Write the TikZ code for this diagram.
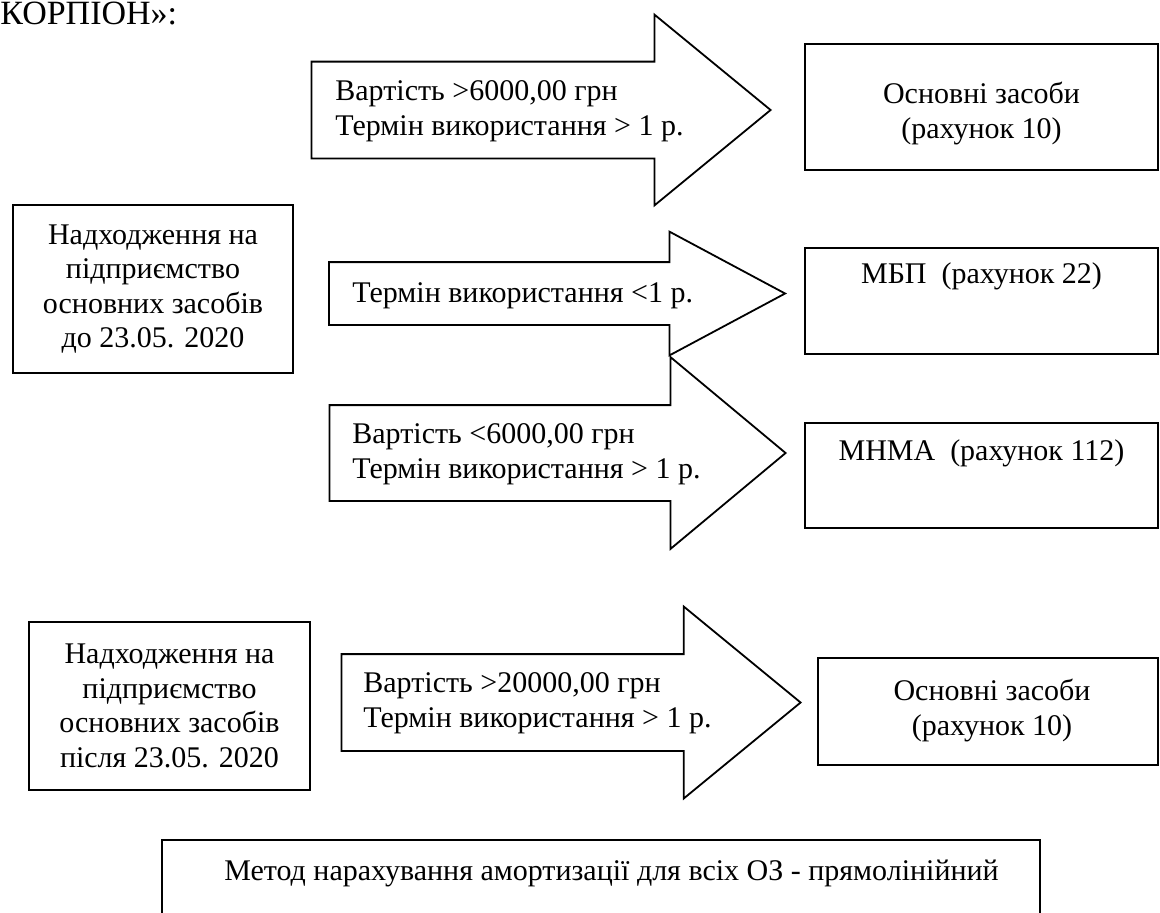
\documentclass[tikz,border=0pt]{standalone}
\usepackage{fontspec}
\setmainfont{Liberation Serif}
\usetikzlibrary{shapes.arrows}

\begin{document}
\begin{tikzpicture}[
  x=0.5pt, y=-0.5pt,
  font=\fontsize{15}{17.25}\selectfont,
  every node/.style={align=center},
  box/.style={draw, line width=0.9pt, inner sep=0pt},
  blockarr/.style={draw, line width=0.9pt, single arrow, anchor=tip,
                   inner xsep=0pt, single arrow head indent=0pt},
  lbl/.style={inner sep=0pt}
]
\clip (0,0) rectangle (1160,912);

%% ── Title fragment ────────────────────────────────────────────────────────
\node[lbl, anchor=base west, font=\fontsize{17}{20}\selectfont] (title)
      at (0,24) {КОРПІОН»:};

%% ── Row 1 : before 23.05.2020 ─────────────────────────────────────────────
\node[box, minimum width=140pt, minimum height=84pt] (inBefore) at (153,289)
      {Надходження на\\підприємство\\основних засобів\\до 23.05. 2020};

\node[blockarr, minimum height=229.5pt, minimum width=94.5pt, inner ysep=23.75pt,
      single arrow head extend=23.5pt, single arrow tip angle=78.8] (arrHigh) at (772,110) {};
\node[blockarr, minimum height=228pt, minimum width=61pt, inner ysep=15.25pt,
      single arrow head extend=15.25pt, single arrow tip angle=56.3] (arrShort) at (787,293.5) {};
\node[blockarr, minimum height=228pt, minimum width=95pt, inner ysep=23.5pt,
      single arrow head extend=24pt, single arrow tip angle=79.6] (arrLow) at (787,453) {};

\node[lbl, align=left, anchor=base west] at (335,135)
      {Вартість >6000,00 грн\\Термін використання > 1 р.};
\node[lbl, align=left, anchor=base west] at (352,302)
      {Термін використання <1 р.};
\node[lbl, align=left, anchor=base west] at (352,478)
      {Вартість <6000,00 грн\\Термін використання > 1 р.};

\node[box, minimum width=176.5pt, minimum height=63pt] (osBefore) at (981.5,107) {};
\node[lbl, anchor=base] at (981.5,138) {Основні засоби\\(рахунок 10)};
\node[box, minimum width=176.5pt, minimum height=53pt] (mbp) at (981.5,301) {};
\node[lbl, anchor=base] at (981.5,283) {МБП\ \ (рахунок 22)};
\node[box, minimum width=176.5pt, minimum height=52.5pt] (mnma) at (981.5,475.5) {};
\node[lbl, anchor=base] at (981.5,460) {МНМА\ \ (рахунок 112)};

%% ── Row 2 : after 23.05.2020 ──────────────────────────────────────────────
\node[box, minimum width=140.5pt, minimum height=84pt] (inAfter) at (169.5,706)
      {Надходження на\\підприємство\\основних засобів\\після 23.05. 2020};

\node[blockarr, minimum height=229.5pt, minimum width=95pt, inner ysep=23.75pt,
      single arrow head extend=23.75pt, single arrow tip angle=78.8] (arrNew) at (802,702.5) {};
\node[lbl, align=left, anchor=base west] at (363,727)
      {Вартість >20000,00 грн\\Термін використання > 1 р.};

\node[box, minimum width=170pt, minimum height=53.5pt] (osAfter) at (988,711.5) {};
\node[lbl, anchor=base] at (992,735) {Основні засоби\\(рахунок 10)};

%% ── Note ──────────────────────────────────────────────────────────────────
\node[box, minimum width=439pt, minimum height=60pt] (method) at (601,900) {};
\node[lbl, anchor=base] at (611.5,880)
      {Метод нарахування амортизації для всіх ОЗ - прямолінійний};

\end{tikzpicture}
\end{document}
